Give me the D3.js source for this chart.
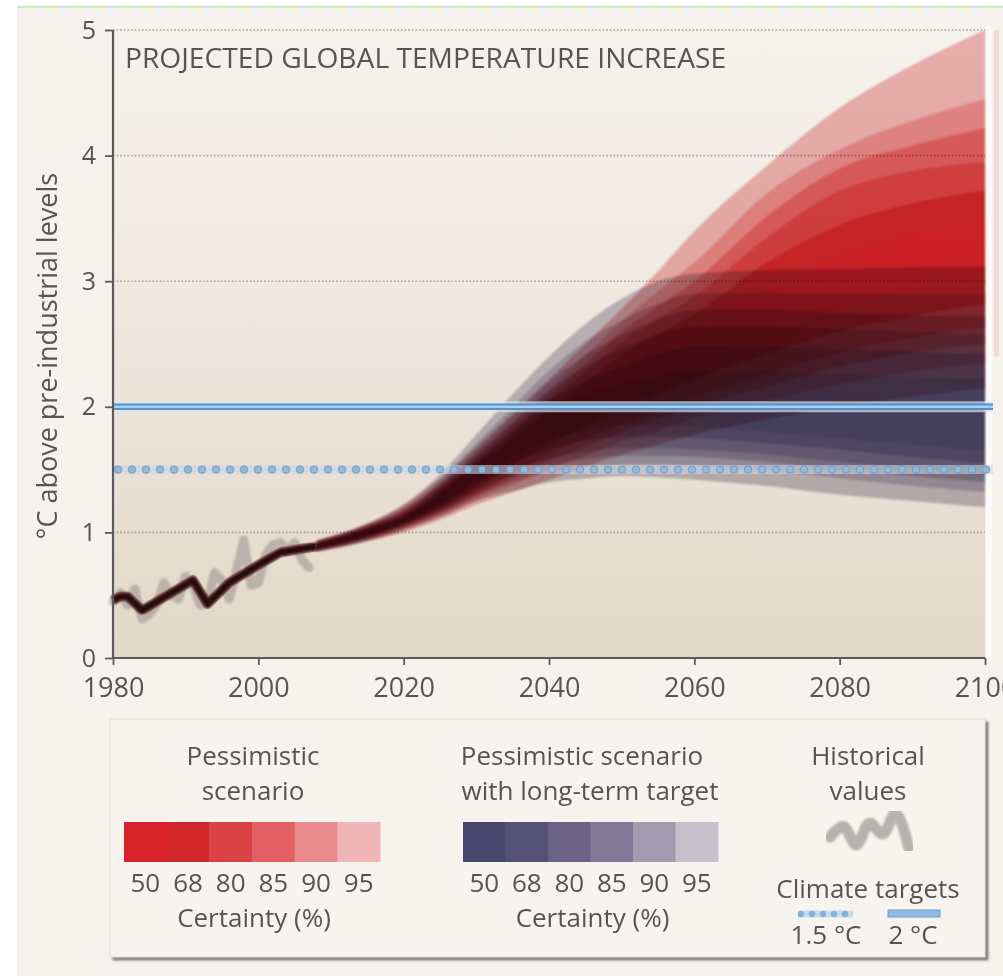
<!DOCTYPE html>
<html>
<head>
<meta charset="utf-8">
<script src="https://cdn.jsdelivr.net/npm/d3@7"></script>
<style>
  html, body { margin: 0; padding: 0; background: #ffffff; }
  svg { display: block; }
  text { font-family: "Open Sans", "Noto Sans", sans-serif; fill: #555; }
</style>
</head>
<body>
<svg id="chart" width="1003" height="976"></svg>
<script>
// ---------- data ----------
const yTicks = [0, 1, 2, 3, 4, 5];
const xTicks = [1980, 2000, 2020, 2040, 2060, 2080, 2100];
const targetLow = 1.5;   // °C, dotted
const targetHigh = 2.0;  // °C, solid
const certaintyLevels = ["50", "68", "80", "85", "90", "95"];

// observed annual anomalies (°C above pre-industrial)
const histYears = [1980,1981,1982,1983,1984,1985,1986,1987,1988,1989,1990,1991,1992,1993,
                   1994,1995,1996,1997,1998,1999,2000,2001,2002,2003,2004,2005,2006,2007];
const histValues = [0.45,0.52,0.42,0.55,0.31,0.35,0.42,0.60,0.50,0.47,0.65,0.58,0.42,0.45,
                    0.68,0.62,0.47,0.70,0.94,0.58,0.60,0.82,0.90,0.92,0.86,0.92,0.78,0.72];

// modelled central path before the projections fan out
const modelYears  = [1980, 1981, 1982, 1984, 1991, 1993, 1996, 2000, 2003, 2006, 2008];
const modelValues = [0.46, 0.49, 0.49, 0.38, 0.62, 0.43, 0.60, 0.74, 0.84, 0.87, 0.89];

// projection years shared by both scenarios
const projYears = [2008, 2015, 2020, 2025, 2030, 2035, 2040, 2045, 2050, 2055, 2060, 2070, 2080, 2090, 2100];

// pessimistic scenario: certainty bands, widest first
const pessimistic = [
  { level: "95",
    lo: [0.845,0.93, 1.00, 1.10, 1.22, 1.32, 1.42, 1.52, 1.62, 1.70, 1.78, 1.90, 2.00, 2.08, 2.15],
    hi: [0.935,1.07, 1.22, 1.43, 1.68, 1.95, 2.22, 2.50, 2.78, 3.08, 3.40, 3.92, 4.38, 4.72, 5.00] },
  { level: "90",
    lo: [0.85, 0.94, 1.02, 1.13, 1.26, 1.38, 1.50, 1.61, 1.72, 1.81, 1.91, 2.05, 2.18, 2.28, 2.35],
    hi: [0.93, 1.06, 1.19, 1.39, 1.63, 1.89, 2.14, 2.41, 2.68, 2.92, 3.15, 3.70, 4.05, 4.28, 4.45] },
  { level: "85",
    lo: [0.855,0.95, 1.04, 1.15, 1.29, 1.43, 1.57, 1.68, 1.80, 1.90, 2.00, 2.16, 2.32, 2.43, 2.50],
    hi: [0.925,1.05, 1.17, 1.37, 1.60, 1.85, 2.09, 2.34, 2.60, 2.80, 3.00, 3.52, 3.90, 4.08, 4.22] },
  { level: "80",
    lo: [0.86, 0.96, 1.055,1.17, 1.32, 1.47, 1.62, 1.75, 1.86, 1.97, 2.08, 2.26, 2.43, 2.55, 2.63],
    hi: [0.92, 1.04, 1.15, 1.35, 1.57, 1.81, 2.05, 2.28, 2.52, 2.70, 2.88, 3.35, 3.72, 3.88, 3.95] },
  { level: "68",
    lo: [0.87, 0.97, 1.07, 1.20, 1.36, 1.53, 1.70, 1.85, 1.98, 2.10, 2.22, 2.42, 2.60, 2.72, 2.82],
    hi: [0.91, 1.03, 1.13, 1.32, 1.54, 1.76, 1.99, 2.20, 2.42, 2.58, 2.74, 3.15, 3.45, 3.62, 3.72] },
  { level: "50",
    lo: [0.875,0.98, 1.08, 1.22, 1.40, 1.59, 1.77, 1.94, 2.09, 2.24, 2.38, 2.60, 2.78, 2.92, 3.02],
    hi: [0.905,1.02, 1.12, 1.30, 1.50, 1.71, 1.93, 2.12, 2.32, 2.48, 2.62, 2.95, 3.20, 3.38, 3.48] }
];

// pessimistic scenario with long-term target: certainty bands, widest first
const withTarget = [
  { level: "95",
    lo: [0.845,0.93, 1.02, 1.12, 1.25, 1.33, 1.40, 1.43, 1.45, 1.44, 1.42, 1.37, 1.30, 1.25, 1.20],
    hi: [0.935,1.07, 1.22, 1.46, 1.78, 2.10, 2.40, 2.66, 2.86, 3.00, 3.06, 3.09, 3.10, 3.11, 3.12] },
  { level: "90",
    lo: [0.85, 0.94, 1.035,1.15, 1.29, 1.40, 1.48, 1.52, 1.54, 1.54, 1.53, 1.49, 1.43, 1.37, 1.32],
    hi: [0.93, 1.06, 1.19, 1.42, 1.71, 2.00, 2.29, 2.52, 2.69, 2.82, 2.90, 2.91, 2.90, 2.90, 2.90] },
  { level: "85",
    lo: [0.855,0.95, 1.05, 1.17, 1.32, 1.45, 1.53, 1.58, 1.61, 1.61, 1.60, 1.56, 1.50, 1.45, 1.40],
    hi: [0.925,1.05, 1.17, 1.39, 1.66, 1.93, 2.20, 2.41, 2.57, 2.70, 2.77, 2.77, 2.75, 2.73, 2.72] },
  { level: "80",
    lo: [0.86, 0.96, 1.06, 1.19, 1.35, 1.50, 1.58, 1.64, 1.67, 1.67, 1.66, 1.62, 1.56, 1.51, 1.46],
    hi: [0.92, 1.04, 1.15, 1.36, 1.62, 1.87, 2.13, 2.32, 2.46, 2.58, 2.64, 2.64, 2.62, 2.60, 2.58] },
  { level: "68",
    lo: [0.87, 0.97, 1.07, 1.21, 1.39, 1.55, 1.66, 1.73, 1.76, 1.76, 1.75, 1.71, 1.66, 1.60, 1.55],
    hi: [0.91, 1.03, 1.13, 1.33, 1.57, 1.80, 2.05, 2.21, 2.32, 2.42, 2.48, 2.48, 2.46, 2.44, 2.42] },
  { level: "50",
    lo: [0.875,0.98, 1.08, 1.23, 1.42, 1.60, 1.74, 1.81, 1.85, 1.85, 1.84, 1.80, 1.75, 1.70, 1.65],
    hi: [0.905,1.02, 1.12, 1.31, 1.53, 1.73, 1.97, 2.10, 2.18, 2.24, 2.28, 2.28, 2.26, 2.24, 2.22] }
];

// small wave used as the legend glyph for historical values
const glyphValues = [0.38, 0.66, 0.18, 0.74, 0.46, 1.0, 0.08];

// ---------- styles ----------
const redFill = { "50": "#d82329", "68": "#d2282c", "80": "#db4245", "85": "#e26063", "90": "#e98b8d", "95": "#f0b6b7" };
const purpleFill = { "50": "#4a476e", "68": "#555075", "80": "#6b6385", "85": "#827a96", "90": "#a29bb0", "95": "#c5c0cc" };

// ---------- layout ----------
const svg = d3.select("#chart");
const x = d3.scaleLinear().domain([1980, 2100]).range([113, 985]);
const y = d3.scaleLinear().domain([0, 5]).range([658, 30]);

const defs = svg.append("defs");
const bgGrad = defs.append("linearGradient").attr("id", "plotBg")
  .attr("x1", 0).attr("y1", 0).attr("x2", 0).attr("y2", 1);
bgGrad.append("stop").attr("offset", "0%").attr("stop-color", "#f5f2ed");
bgGrad.append("stop").attr("offset", "40%").attr("stop-color", "#efe9e0");
bgGrad.append("stop").attr("offset", "100%").attr("stop-color", "#e2d8c8");

const soften = defs.append("filter").attr("id", "soften")
  .attr("x", "-5%").attr("y", "-5%").attr("width", "110%").attr("height", "110%");
soften.append("feGaussianBlur").attr("stdDeviation", 1.1);

const shadow = defs.append("filter").attr("id", "boxShadow")
  .attr("x", "-5%").attr("y", "-5%").attr("width", "110%").attr("height", "115%");
shadow.append("feDropShadow").attr("dx", 3).attr("dy", 3).attr("stdDeviation", 1.2)
  .attr("flood-color", "#6d6d6d").attr("flood-opacity", 0.85);

// page background
svg.append("rect").attr("x", 17).attr("y", 9).attr("width", 986).attr("height", 967).attr("fill", "#f6f3ef");

// thin coloured rule along the top edge
[["#cdeeb8", "14 10", 0], ["#f1e5b0", "9 15", 12], ["#c4ecef", "6 18", 5]].forEach(([c, dash, off]) => {
  svg.append("line").attr("x1", 17).attr("x2", 1003).attr("y1", 7).attr("y2", 7)
    .attr("stroke", c).attr("stroke-width", 2.5).attr("stroke-dasharray", dash).attr("stroke-dashoffset", off);
});

// plot area
svg.append("rect")
  .attr("x", x(1980)).attr("y", y(5))
  .attr("width", x(2100) - x(1980)).attr("height", y(0) - y(5))
  .attr("fill", "url(#plotBg)");

// strip beyond the right end of the time axis
svg.append("rect").attr("x", 994).attr("y", y(5)).attr("width", 5).attr("height", y(2.4) - y(5))
  .attr("fill", "#eebcbc").attr("opacity", 0.45);
svg.append("rect").attr("x", 986).attr("y", y(5) - 4).attr("width", 6).attr("height", y(0) - y(5) + 4)
  .attr("fill", "#fbfaf8");

// dotted gridlines
svg.append("g").selectAll("line").data(yTicks.filter(t => t > 0)).join("line")
  .attr("x1", x(1980)).attr("x2", x(2100))
  .attr("y1", d => y(d)).attr("y2", d => y(d))
  .attr("stroke", "#a7a19a").attr("stroke-width", 1.6).attr("stroke-dasharray", "1.6 2");

// historical values
const histLine = d3.line().x((d, i) => x(histYears[i])).y(d => y(d)).curve(d3.curveLinear);
svg.append("path").attr("d", histLine(histValues))
  .attr("fill", "none").attr("stroke", "#8f8a86").attr("stroke-opacity", 0.5)
  .attr("stroke-width", 9).attr("stroke-linejoin", "round").attr("stroke-linecap", "round")
  .attr("filter", "url(#soften)");

// projection fans
const bandArea = d3.area().curve(d3.curveMonotoneX)
  .x((d, i) => x(projYears[i])).y0(d => y(d[0])).y1(d => y(d[1]));

function drawFan(bands, fills) {
  const g = svg.append("g").style("mix-blend-mode", "multiply").attr("filter", "url(#soften)");
  bands.forEach(b => {
    g.append("path").attr("d", bandArea(b.lo.map((v, i) => [v, b.hi[i]]))).attr("fill", fills[b.level]);
  });
  return g;
}
drawFan(withTarget, purpleFill);
drawFan(pessimistic, redFill);

// modelled path up to the start of the projections
const modelLine = d3.line().x((d, i) => x(modelYears[i])).y(d => y(d));
svg.append("path").attr("d", modelLine(modelValues))
  .attr("fill", "none").attr("stroke", "#b8373a").attr("stroke-opacity", 0.45)
  .attr("stroke-width", 10).attr("stroke-linejoin", "round");
svg.append("path").attr("d", modelLine(modelValues))
  .attr("fill", "none").attr("stroke", "#26080b")
  .attr("stroke-width", 7.5).attr("stroke-linejoin", "round").attr("filter", "url(#soften)");

// climate targets
const targetRight = 993;
svg.append("line").attr("x1", x(1980)).attr("x2", targetRight).attr("y1", y(targetHigh)).attr("y2", y(targetHigh))
  .attr("stroke", "#d6e6f2").attr("stroke-opacity", 0.7).attr("stroke-width", 11);
svg.append("line").attr("x1", x(1980)).attr("x2", targetRight).attr("y1", y(targetHigh)).attr("y2", y(targetHigh))
  .attr("stroke", "#5b90c6").attr("stroke-width", 6.5);
svg.append("line").attr("x1", x(1980)).attr("x2", targetRight).attr("y1", y(targetHigh)).attr("y2", y(targetHigh))
  .attr("stroke", "#a9d0f3").attr("stroke-width", 2.6);

svg.append("line").attr("x1", x(1980)).attr("x2", targetRight).attr("y1", y(targetLow)).attr("y2", y(targetLow))
  .attr("stroke", "#c3d7ea").attr("stroke-opacity", 0.6).attr("stroke-width", 9);
svg.append("g").selectAll("circle").data(d3.range(x(1980) + 5, targetRight, 14)).join("circle")
  .attr("cx", d => d).attr("cy", y(targetLow)).attr("r", 3.7)
  .attr("fill", "#95b7d8").attr("stroke", "#6f95bd").attr("stroke-width", 0.9);

// axes
const axisColor = "#5a5a5a";
const yAxis = svg.append("g").attr("transform", `translate(${x(1980)},0)`)
  .call(d3.axisLeft(y).tickValues(yTicks).tickFormat(d3.format("d")).tickSize(8).tickPadding(9));
const xAxis = svg.append("g").attr("transform", `translate(0,${y(0)})`)
  .call(d3.axisBottom(x).tickValues(xTicks).tickFormat(d3.format("d")).tickSize(7).tickPadding(13));
[yAxis, xAxis].forEach(a => {
  a.select(".domain").attr("stroke", axisColor).attr("stroke-width", 2.2);
  a.selectAll(".tick line").attr("stroke", axisColor).attr("stroke-width", 1.8);
  a.selectAll(".tick text").attr("fill", "#555").style("font-family", '"Open Sans", sans-serif');
});
yAxis.selectAll(".tick text").style("font-size", "25px");
xAxis.selectAll(".tick text").style("font-size", "27px");
yAxis.select(".domain").attr("d", `M-0,${y(5)}V${y(0)}`);
xAxis.select(".domain").attr("d", `M${x(1980)},0H${x(2100)}`);

// axis title
svg.append("text")
  .attr("transform", `translate(57,356) rotate(-90)`)
  .attr("text-anchor", "middle").style("font-size", "27px")
  .text("°C above pre-industrial levels");

// chart title
svg.append("text").attr("x", 125).attr("y", 68).style("font-size", "28.2px")
  .text("PROJECTED GLOBAL TEMPERATURE INCREASE");

// ---------- legend ----------
const legend = svg.append("g");
legend.append("rect").attr("x", 110).attr("y", 719).attr("width", 875).attr("height", 238)
  .attr("fill", "#f7f4f0").attr("stroke", "#dedad4").attr("stroke-width", 1)
  .attr("filter", "url(#boxShadow)");

const legendFont = "26px";
function centred(text, cx, cy) {
  legend.append("text").attr("x", cx).attr("y", cy).attr("text-anchor", "middle")
    .style("font-size", legendFont).text(text);
}

function certaintyKey(x0, x1, fills) {
  const band = d3.scaleBand().domain(certaintyLevels).range([x0, x1]);
  legend.append("g").selectAll("rect").data(certaintyLevels).join("rect")
    .attr("x", d => band(d)).attr("y", 822).attr("width", band.bandwidth() + 0.5).attr("height", 40)
    .attr("fill", d => fills[d]);
  legend.append("g").selectAll("text").data(certaintyLevels).join("text")
    .attr("x", d => band(d) + band.bandwidth() / 2).attr("y", 892)
    .attr("text-anchor", "middle").style("font-size", legendFont).text(d => d);
  centred("Certainty (%)", (x0 + x1) / 2 + 2, 927);
}

centred("Pessimistic", 253, 765);
centred("scenario", 253, 800);
certaintyKey(124, 380, redFill);

centred("Pessimistic scenario", 582, 765);
centred("with long-term target", 590, 800);
certaintyKey(463, 718, purpleFill);

centred("Historical", 868, 765);
centred("values", 868, 800);

// historical glyph
const gx = d3.scaleLinear().domain([0, glyphValues.length - 1]).range([830, 909]);
const gy = d3.scaleLinear().domain([0, 1]).range([852, 813]);
legend.append("path")
  .attr("d", d3.line().x((d, i) => gx(i)).y(d => gy(d)).curve(d3.curveCatmullRom)(glyphValues))
  .attr("fill", "none").attr("stroke", "#a09c98").attr("stroke-opacity", 0.75)
  .attr("stroke-width", 11).attr("stroke-linejoin", "round").attr("stroke-linecap", "round")
  .attr("filter", "url(#soften)");

centred("Climate targets", 868, 898);
// 1.5 °C glyph
legend.append("line").attr("x1", 798).attr("x2", 853).attr("y1", 914).attr("y2", 914)
  .attr("stroke", "#c9dcee").attr("stroke-width", 7);
legend.append("g").selectAll("circle").data(d3.range(801, 853, 11)).join("circle")
  .attr("cx", d => d).attr("cy", 914).attr("r", 3.2).attr("fill", "#86b0d8");
// 2 °C glyph
legend.append("rect").attr("x", 888).attr("y", 910).attr("width", 52).attr("height", 7)
  .attr("fill", "#8fbbe4").attr("stroke", "#6a9ccc").attr("stroke-width", 1);
centred("1.5 °C", 826, 944);
centred("2 °C", 913, 944);
</script>
</body>
</html>
